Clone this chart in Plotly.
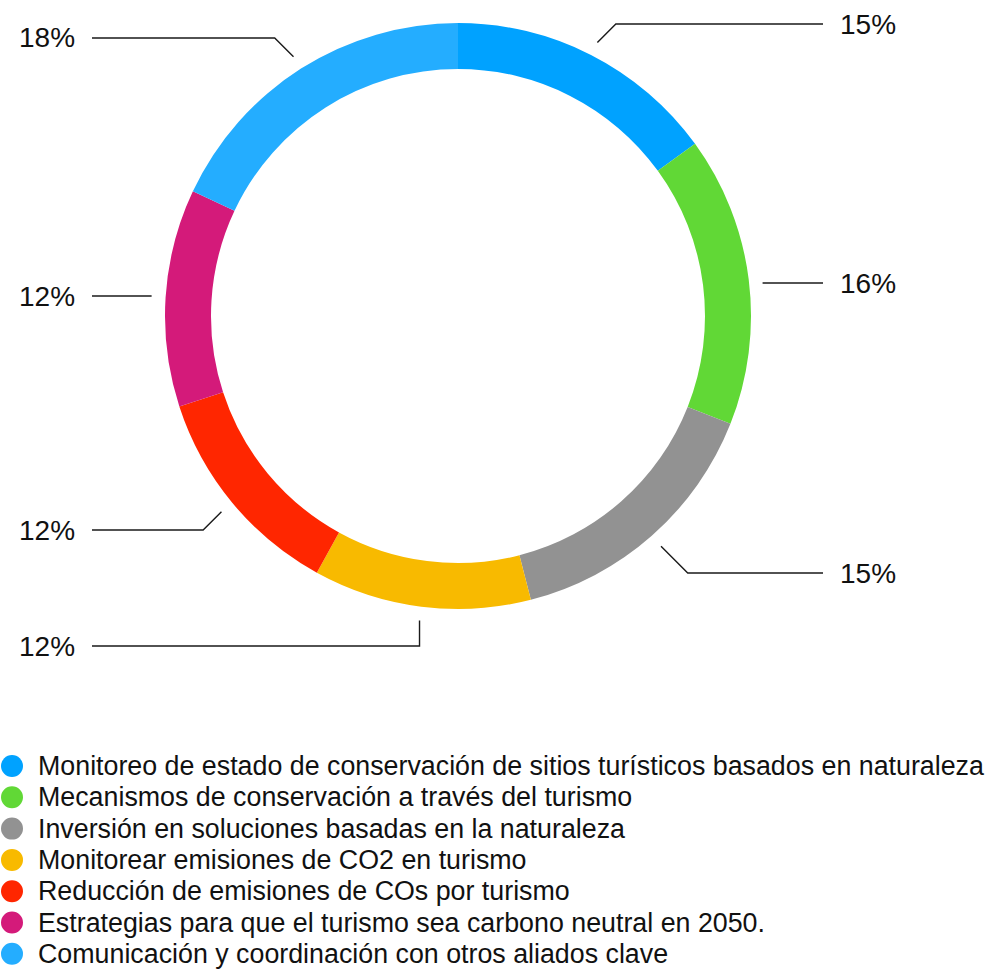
import math
import plotly.graph_objects as go

# Datos
categorias = [
    "Monitoreo de estado de conservación de sitios turísticos basados en naturaleza",
    "Mecanismos de conservación a través del turismo",
    "Inversión en soluciones basadas en la naturaleza",
    "Monitorear emisiones de CO2 en turismo",
    "Reducción de emisiones de COs por turismo",
    "Estrategias para que el turismo sea carbono neutral en 2050.",
    "Comunicación y coordinación con otros aliados clave",
]
porcentajes = [15, 16, 15, 12, 12, 12, 18]

colores = ["#00A2FF", "#61D836", "#929292", "#F8BA00", "#FF2600", "#D41A7A", "#24ADFF"]

# Geometría en píxeles
W, H = 995, 970
cx, cy, R = 458, 316, 293
r_hueco = 247
# altura (px) de cada etiqueta externa
etiqueta_y = [24, 283, 573, 646, 530, 296, 38]
x_der, x_izq = 823, 92
# leyenda
ley_x, ley_y0, ley_paso, ley_r = 12, 766, 31.3, 11
fuente = "Liberation Sans, Arial, Helvetica, sans-serif"


def px(x):
    return x / W


def py(y):
    return 1 - y / H


fig = go.Figure()

fig.add_trace(go.Pie(
    labels=categorias,
    values=porcentajes,
    sort=False,
    direction="clockwise",
    rotation=0,
    hole=r_hueco / R,
    marker=dict(colors=colores, line=dict(width=0)),
    textinfo="none",
    hoverinfo="label+percent",
    showlegend=False,
    domain=dict(x=[px(cx - R), px(cx + R)], y=[py(cy + R), py(cy - R)]),
))

# Líneas guía y etiquetas
total = sum(porcentajes)
acumulado = 0
for v, ly in zip(porcentajes, etiqueta_y):
    theta = math.radians((acumulado + v / 2) / total * 360)
    acumulado += v
    sx = cx + (R + 14) * math.sin(theta)
    sy = cy - (R + 14) * math.cos(theta)
    derecha = math.sin(theta) > 0
    signo = 1 if derecha else -1
    fin_x = x_der if derecha else x_izq
    dy = abs(ly - sy)
    if dy < 8:
        puntos = [(sx, ly), (fin_x, ly)]
    elif abs(math.sin(theta)) < 0.26:
        puntos = [(sx, sy), (sx, ly), (fin_x, ly)]
    else:
        puntos = [(sx, sy), (sx + signo * dy, ly), (fin_x, ly)]
    ruta = "M " + " L ".join(f"{px(a):.5f},{py(b):.5f}" for a, b in puntos)
    fig.add_shape(type="path", path=ruta, xref="paper", yref="paper",
                  line=dict(color="#1a1a1a", width=1.4))
    fig.add_annotation(
        x=px(fin_x + signo * 15), y=py(ly), xref="paper", yref="paper",
        text=f"{v}%", showarrow=False,
        xanchor="left" if derecha else "right", yanchor="middle",
        font=dict(size=28, color="#111111", family=fuente),
    )

# Leyenda con círculos
for i, (nombre, color) in enumerate(zip(categorias, colores)):
    yc = ley_y0 + i * ley_paso
    fig.add_shape(type="circle", xref="paper", yref="paper",
                  x0=px(ley_x - ley_r), x1=px(ley_x + ley_r),
                  y0=py(yc + ley_r), y1=py(yc - ley_r),
                  fillcolor=color, line=dict(width=0))
    fig.add_annotation(
        x=px(ley_x + 24), y=py(yc), xref="paper", yref="paper",
        text=nombre, showarrow=False, xanchor="left", yanchor="middle",
        font=dict(size=26.8, color="#111111", family=fuente),
    )

fig.update_layout(
    width=W, height=H,
    margin=dict(l=0, r=0, t=0, b=0, autoexpand=False),
    paper_bgcolor="white", plot_bgcolor="white",
    font=dict(family=fuente, color="#111111"),
    showlegend=False,
)

# sin margen en el body para que la figura empiece en (0, 0)
fig.write_html("out.html", config={"displayModeBar": False},
               post_script="document.body.style.margin = '0';")
